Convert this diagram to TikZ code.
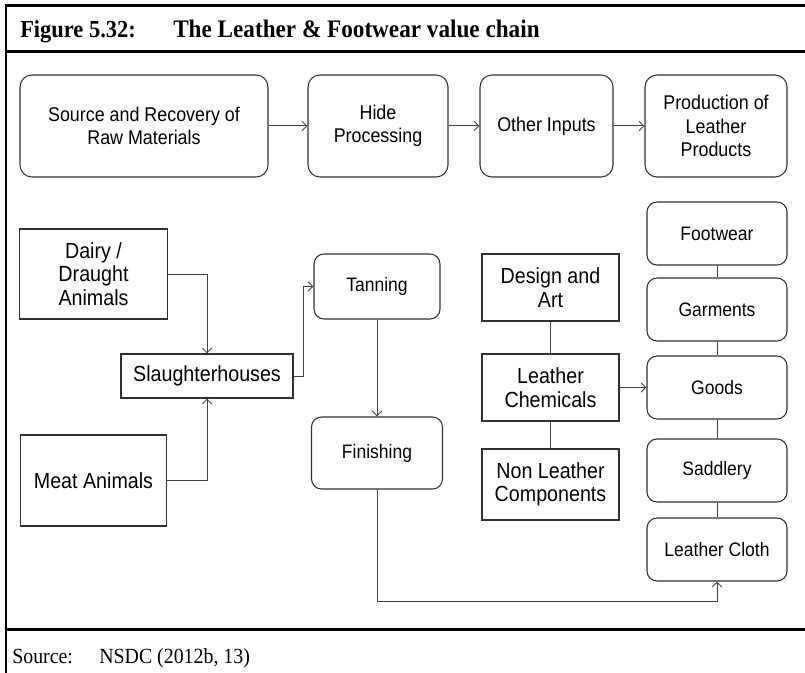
\documentclass[tikz,border=0pt]{standalone}
\usepackage{fontspec}
\setmainfont{Liberation Serif}
\newfontfamily\boxfont{Liberation Sans}[FakeStretch=0.9]
\newfontfamily\capfont{Liberation Serif}[FakeStretch=0.92]
\usetikzlibrary{arrows.meta}
\definecolor{boxline}{HTML}{303030}
\definecolor{connline}{HTML}{404040}
\begin{document}
\begin{tikzpicture}[x=0.75pt,y=-0.75pt,
  sz/.style 2 args={minimum width=#1*0.75pt, minimum height=#2*0.75pt},
  basebox/.style={draw=boxline, line width=0.8pt, inner sep=2pt, align=center, text=black},
  rbox/.style={basebox, rounded corners=7.5pt, font=\boxfont\fontsize{14.6}{17}\selectfont},
  tbox/.style={basebox, rounded corners=9pt, font=\boxfont\fontsize{14.9}{17.5}\selectfont},
  sbox/.style={basebox, font=\boxfont\fontsize{16.4}{17.6}\selectfont},
  conn/.style={draw=connline, line width=0.75pt},
  arr/.style={conn, -{Straight Barb[length=3.5pt,width=7pt]}},
  frame/.style={draw=black, line width=2pt},
  captxt/.style={anchor=base west, inner sep=0pt, text=black}
]
\useasboundingbox (0,0) rectangle (805,673);
% frame
\draw[frame] (4.7,5.3) -- (805,5.3);
\draw[frame] (6,4.3) -- (6,673);
\draw[frame] (5,51.5) -- (805,51.5);
\draw[frame] (5,629.5) -- (805,629.5);
% caption
\node[captxt, font=\capfont\bfseries\fontsize{18.3}{20}\selectfont] (figno) at (20,37.5) {Figure 5.32:};
\node[captxt, font=\capfont\bfseries\fontsize{18.9}{20}\selectfont] (title) at (173,37.5) {The Leather \& Footwear value chain};
\node[captxt, font=\capfont\fontsize{16.2}{18}\selectfont] (srclab) at (12,663) {Source:};
\node[captxt, font=\capfont\fontsize{16.2}{18}\selectfont] (srcref) at (99,663) {NSDC (2012b, 13)};
% top row
\node[tbox, sz={248}{102}] (src) at (144,126) {Source and Recovery of\\Raw Materials};
\node[tbox, sz={140}{102}] (hide) at (378,126) {Hide\\Processing};
\node[tbox, sz={133}{102}] (other) at (546.5,126) {Other Inputs};
\node[tbox, sz={142}{102}] (prod) at (716,126) {Production of\\Leather\\Products};
\draw[arr] (src.east) -- (hide.west);
\draw[arr] (hide.east) -- (other.west);
\draw[arr] (other.east) -- (prod.west);
% left part
\node[sbox, sz={148}{90}] (dairy) at (93.5,274) {Dairy /\\Draught\\Animals};
\node[sbox, sz={172}{44}] (slaughter) at (207,376) {Slaughterhouses};
\node[sbox, sz={146}{91}] (meat) at (93.5,480.5) {Meat Animals};
\node[rbox, sz={126}{65}] (tanning) at (377,286.5) {Tanning};
\node[rbox, sz={131}{72}] (finishing) at (377,453) {Finishing};
\draw[arr] (dairy.east) -| (slaughter.north);
\draw[arr] (meat.east) -| (slaughter.south);
\draw[arr] (slaughter.east) -- ++(10,0) |- (tanning.west);
\draw[arr] (tanning.south) -- (finishing.north);
% middle column
\node[sbox, sz={137}{67}] (design) at (550.5,287.5) {Design and\\Art};
\node[sbox, sz={137}{67}] (chem) at (550.5,387.5) {Leather\\Chemicals};
\node[sbox, sz={137}{71}] (nonleather) at (550.5,484.5) {Non Leather\\Components};
\draw[conn] (design.south) -- (chem.north);
\draw[conn] (chem.south) -- (nonleather.north);
% right column
\node[rbox, sz={140}{63}] (footwear) at (717,233.5) {Footwear};
\node[rbox, sz={140}{63}] (garments) at (717,309.5) {Garments};
\node[rbox, sz={140}{63}] (goods) at (717,387.5) {Goods};
\node[rbox, sz={140}{63}] (saddlery) at (717,470.5) {Saddlery};
\node[rbox, sz={140}{63}] (cloth) at (717,549.5) {Leather Cloth};
\draw[conn] (footwear.south) -- (garments.north);
\draw[conn] (garments.south) -- (goods.north);
\draw[conn] (goods.south) -- (saddlery.north);
\draw[conn] (saddlery.south) -- (cloth.north);
\draw[arr] (chem.east) -- (goods.west);
\draw[arr] (finishing.south) -- ++(0,112) -| (cloth.south);
\end{tikzpicture}
\end{document}
